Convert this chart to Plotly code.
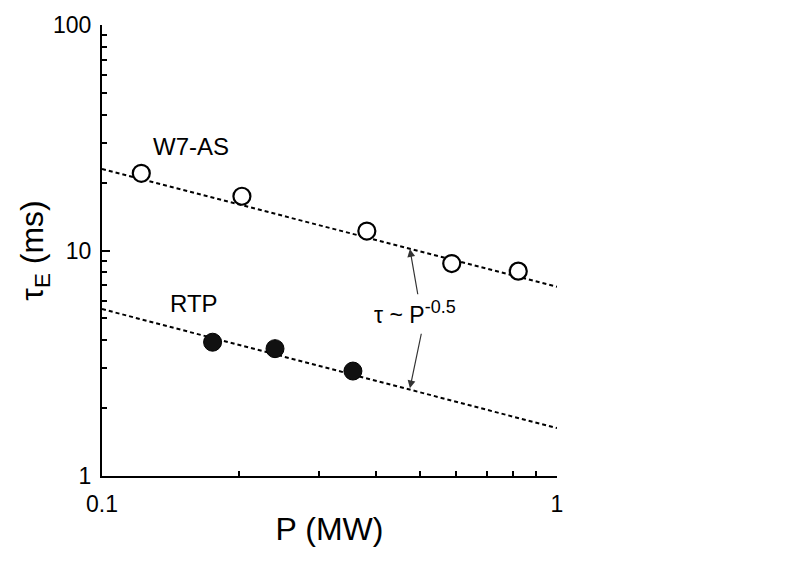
import plotly.graph_objects as go
import numpy as np

# --- data ---
w7_power = [0.122, 0.203, 0.382, 0.587, 0.822]      # MW
w7_tau = [22.0, 17.4, 12.2, 8.75, 8.1]              # ms
rtp_power = [0.175, 0.240, 0.356]
rtp_tau = [3.92, 3.67, 2.92]

fit_power = [0.1, 1.0]
w7_fit_tau = [23.0, 6.9]
rtp_fit_tau = [5.5, 1.63]

x_tickvals = [0.1, 1]
x_ticktext = ["0.1", "1"]
y_tickvals = [1, 10, 100]
y_ticktext = ["1", "10", "100"]

FONT = "Liberation Sans, Arial, Helvetica, sans-serif"
lg = np.log10

fig = go.Figure()

fig.add_trace(go.Scatter(x=fit_power, y=w7_fit_tau, mode="lines",
                         line=dict(color="black", width=2, dash="4px,3px"),
                         showlegend=False, hoverinfo="skip"))
fig.add_trace(go.Scatter(x=fit_power, y=rtp_fit_tau, mode="lines",
                         line=dict(color="black", width=2, dash="4px,3px"),
                         showlegend=False, hoverinfo="skip"))
fig.add_trace(go.Scatter(x=w7_power, y=w7_tau, mode="markers", name="W7-AS",
                         marker=dict(symbol="circle", size=17, color="white",
                                     line=dict(color="black", width=2.2)),
                         showlegend=False))
fig.add_trace(go.Scatter(x=rtp_power, y=rtp_tau, mode="markers", name="RTP",
                         marker=dict(symbol="circle", size=18, color="#111111",
                                     line=dict(color="black", width=1)),
                         showlegend=False))

# text labels
fig.add_annotation(x=lg(0.157), y=lg(28.9), text="W7-AS", showarrow=False,
                   font=dict(family=FONT, size=24, color="black"))
fig.add_annotation(x=lg(0.159), y=lg(5.8), text="RTP", showarrow=False,
                   font=dict(family=FONT, size=24, color="black"))
fig.add_annotation(x=lg(0.488), y=lg(5.3),
                   text="τ ~ P<sup><span style='font-size:18px'>-0.5</span></sup>",
                   showarrow=False,
                   font=dict(family=FONT, size=23, color="black"))

# arrows
fig.add_annotation(x=lg(0.475), y=lg(10.15), ax=lg(0.495), ay=lg(6.3),
                   axref="x", ayref="y", xref="x", yref="y", text="",
                   showarrow=True, arrowhead=2, arrowsize=1.3, arrowwidth=1.2,
                   arrowcolor="#333333")
fig.add_annotation(x=lg(0.475), y=lg(2.45), ax=lg(0.504), ay=lg(4.34),
                   axref="x", ayref="y", xref="x", yref="y", text="",
                   showarrow=True, arrowhead=2, arrowsize=1.3, arrowwidth=1.2,
                   arrowcolor="#333333")

fig.update_xaxes(type="log", range=[-1, 0], showgrid=False, zeroline=False,
                 showline=True, linecolor="black", linewidth=2,
                 ticks="inside", ticklen=5, tickwidth=1.5, tickcolor="black",
                 tickvals=x_tickvals, ticktext=x_ticktext, ticklabelstandoff=6,
                 minor=dict(ticks="inside", ticklen=5, tickwidth=1.5,
                            tickcolor="black", dtick="D1", showgrid=False),
                 tickfont=dict(family=FONT, size=23, color="black"),
                 title=dict(text="P (MW)", standoff=2,
                            font=dict(family=FONT, size=32, color="black")))
fig.update_yaxes(type="log", range=[0, 2], showgrid=False, zeroline=False,
                 showline=True, linecolor="black", linewidth=2,
                 ticks="inside", ticklen=8, tickwidth=1.5, tickcolor="black",
                 tickvals=y_tickvals, ticktext=y_ticktext, ticklabelstandoff=4,
                 minor=dict(ticks="inside", ticklen=5, tickwidth=1.5,
                            tickcolor="black", dtick="D1", showgrid=False),
                 tickfont=dict(family=FONT, size=23, color="black"),
                 title=dict(text="τ<sub>E</sub> (ms)", standoff=0,
                            font=dict(family=FONT, size=32, color="black")))

fig.update_layout(width=787, height=574, margin=dict(l=102, r=230, t=23, b=98),
                  plot_bgcolor="white", paper_bgcolor="white",
                  font=dict(family=FONT, color="black"))

fig.write_html("out.html")
